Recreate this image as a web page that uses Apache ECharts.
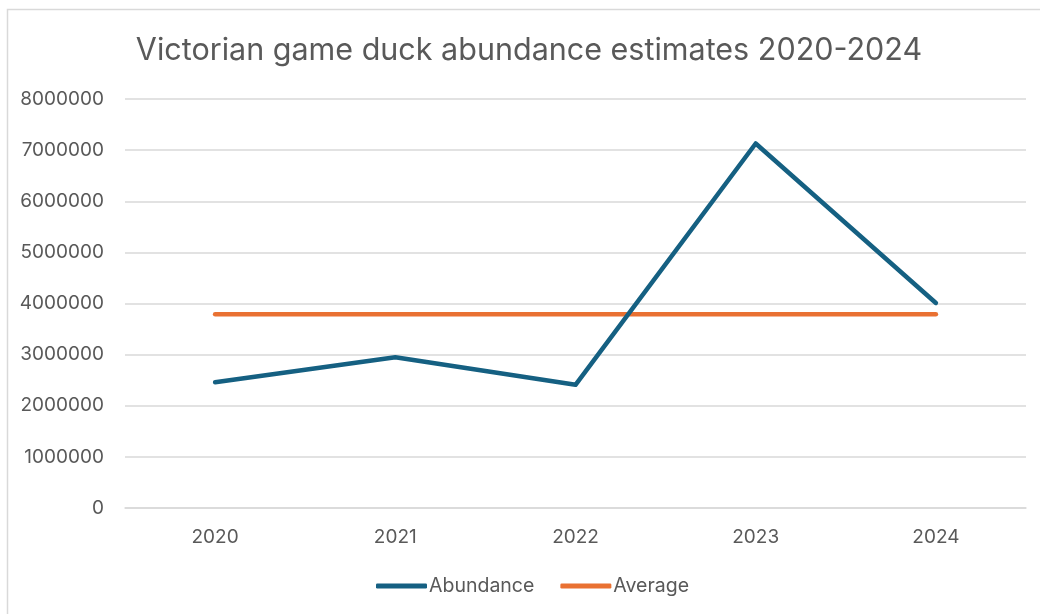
<!DOCTYPE html>
<html>
<head>
<meta charset="utf-8">
<title>Victorian game duck abundance estimates 2020-2024</title>
<script src="https://cdn.jsdelivr.net/npm/echarts@6/dist/echarts.min.js"></script>
<style>
  html, body { margin: 0; padding: 0; background: #ffffff; }
  #chart { width: 1040px; height: 614px; }
</style>
</head>
<body>
<div id="chart"></div>
<script>
// Survey years and estimated game duck numbers
const years = ['2020', '2021', '2022', '2023', '2024'];
const abundance = [2460000, 2950000, 2410000, 7130000, 4010000];
// Five-year average, drawn as a flat reference line
const average = [3790000, 3790000, 3790000, 3790000, 3790000];
const yTicks = { min: 0, max: 8000000, interval: 1000000 };

const FONT = 'Inter, "Noto Sans", "Liberation Sans", sans-serif';
const TEXT = '#595959';
const GRID = '#d9d9d9';

const chart = echarts.init(document.getElementById('chart'), null, { renderer: 'canvas' });

chart.setOption({
  backgroundColor: '#ffffff',
  animation: false,
  graphic: [{
    type: 'rect',
    shape: { x: 7.5, y: 9.5, width: 1100, height: 700 },
    style: { fill: 'none', stroke: GRID, lineWidth: 1.5 },
    silent: true,
    z: -1
  }],
  title: {
    text: 'Victorian game duck abundance estimates 2020-2024',
    left: 524,
    textAlign: 'center',
    top: 30,
    textStyle: { fontFamily: FONT, fontSize: 30.5, fontWeight: 'normal', color: TEXT }
  },
  legend: {
    bottom: 18,
    left: 376,
    itemWidth: 51,
    itemHeight: 5,
    itemGap: 26,
    icon: 'roundRect',
    padding: 0,
    textStyle: { fontFamily: FONT, fontSize: 19.5, color: TEXT, padding: [0, 0, 0, -3] },
    data: ['Abundance', 'Average']
  },
  grid: { left: 125, right: 14, top: 99, bottom: 106, containLabel: false },
  xAxis: {
    type: 'category',
    data: years,
    boundaryGap: true,
    axisLine: { lineStyle: { color: GRID, width: 1.5 } },
    axisTick: { show: false },
    axisLabel: { fontFamily: FONT, fontSize: 19, color: TEXT, margin: 20 }
  },
  yAxis: {
    type: 'value',
    min: yTicks.min,
    max: yTicks.max,
    interval: yTicks.interval,
    axisLine: { show: false },
    axisTick: { show: false },
    axisLabel: {
      fontFamily: FONT, fontSize: 19, color: TEXT, margin: 21,
      formatter: v => String(v)
    },
    splitLine: { lineStyle: { color: GRID, width: 1.5 } }
  },
  series: [
    {
      name: 'Abundance',
      type: 'line',
      data: abundance,
      symbol: 'none',
      color: '#156082',
      lineStyle: { width: 4.5, color: '#156082', cap: 'round', join: 'round' },
      z: 3
    },
    {
      name: 'Average',
      type: 'line',
      data: average,
      symbol: 'none',
      color: '#E97132',
      lineStyle: { width: 4.5, color: '#E97132', cap: 'round', join: 'round' },
      z: 2
    }
  ]
});
</script>
</body>
</html>
